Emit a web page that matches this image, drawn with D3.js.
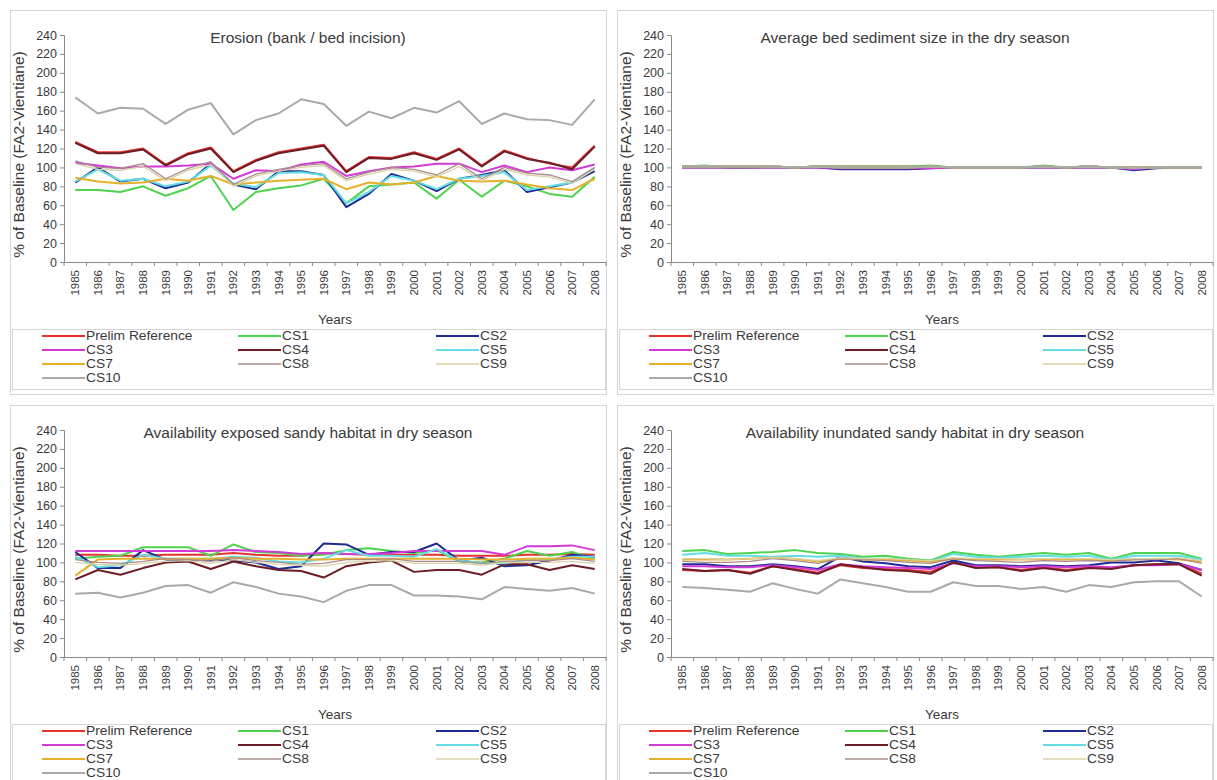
<!DOCTYPE html>
<html>
<head>
<meta charset="utf-8">
<script src="https://cdn.jsdelivr.net/npm/d3@7/dist/d3.min.js"></script>
<style>
  html, body { margin: 0; padding: 0; background: #fff; }
  svg { display: block; font-family: "Liberation Sans", Arial, sans-serif; }
</style>
</head>
<body>
<svg id="chart" width="1217" height="780"></svg>
<script>
// Category axis
const years = ["1985","1986","1987","1988","1989","1990","1991","1992","1993","1994","1995","1996",
               "1997","1998","1999","2000","2001","2002","2003","2004","2005","2006","2007","2008"];
const yTicks = [0, 20, 40, 60, 80, 100, 120, 140, 160, 180, 200, 220, 240];

// Scenario series (drawn in this order)
const seriesNames = ["Prelim Reference","CS1","CS2","CS3","CS4","CS5","CS7","CS8","CS9","CS10"];

const panelTitles = [
  "Erosion (bank / bed incision)",
  "Average bed sediment size in the dry season",
  "Availability exposed sandy habitat in dry season",
  "Availability inundated sandy habitat in dry season"
];

// % of baseline, one row per series in seriesNames order
const erosion = [
  [127,116,116,120,103,115,121,96,108,116,120,124,96,111,110,116,109,120,102,118,110,104,100,123],
  [76,76,74,80,70,78,91,55,74,78,81,88,62,80,82,84,67,87,69,86,80,72,69,90],
  [84,100,85,88,78,84,104,82,77,96,96,92,58,72,93,86,75,88,92,97,74,79,84,96],
  [105,102,99,101,101,102,104,88,97,96,103,106,91,96,100,101,104,104,95,102,95,100,97,103],
  [126,115,115,119,102,114,120,95,107,115,119,123,95,110,109,115,108,119,101,117,109,105,98,122],
  [85,98,86,88,80,85,102,83,79,94,95,92,62,74,91,86,77,88,91,95,76,80,84,99],
  [89,85,83,84,88,86,91,82,84,86,87,88,77,84,82,84,91,86,85,86,82,78,76,88],
  [107,100,99,104,88,99,106,82,93,98,102,104,88,95,100,98,92,104,88,100,94,92,85,100],
  [104,98,97,101,86,97,103,80,91,96,100,102,86,93,98,96,90,101,86,98,92,90,83,98],
  [174,157,163,162,146,161,168,135,150,157,172,167,144,159,152,163,158,170,146,157,151,150,145,172]
];

const sediment = [
  [101,101,101,101,101,100,101,101,101,101,101,101,100,100,100,100,101,100,101,100,100,100,100,100],
  [101,102,100,100,101,100,101,101,101,101,101,102,100,100,100,100,102,100,101,100,100,100,100,100],
  [100,100,100,100,100,100,100,98,98,98,98,99,100,100,100,100,100,100,100,100,97,99,100,100],
  [100,100,100,100,100,100,100,99,99,99,99,99,100,100,100,100,100,100,100,100,98,100,100,100],
  [101,101,101,101,101,100,101,100,100,100,100,101,100,100,100,100,101,100,101,100,100,100,100,100],
  [101,101,101,101,101,100,101,100,100,100,100,101,100,100,100,100,101,100,101,100,100,100,100,100],
  [101,101,101,101,101,100,101,100,100,100,100,101,100,100,100,100,101,100,101,100,100,100,100,100],
  [101,101,101,101,101,100,101,100,100,100,100,101,100,100,100,100,101,100,102,100,100,100,100,100],
  [101,101,101,101,101,100,101,100,100,100,100,101,100,100,100,100,101,100,101,100,100,100,100,100],
  [101,101,101,101,101,100,101,100,100,100,100,101,100,100,100,100,101,100,101,100,99,100,100,100]
];

const exposedHabitat = [
  [108,108,107,107,108,108,108,110,108,107,107,110,109,108,108,108,108,107,107,107,108,108,109,108],
  [104,106,107,116,116,116,107,119,111,110,107,108,113,115,112,110,113,101,100,104,112,107,111,104],
  [111,94,94,113,103,102,103,102,100,93,96,120,119,108,111,111,120,102,105,96,97,102,108,106],
  [112,112,112,112,112,112,112,113,112,111,109,110,109,109,110,112,112,112,112,108,117,117,118,113],
  [82,92,87,94,100,101,93,101,96,92,91,84,96,100,102,90,92,92,87,98,98,92,97,93],
  [106,95,97,108,104,104,104,106,105,101,100,104,113,107,107,106,114,102,99,99,103,103,106,106],
  [86,103,104,104,104,104,104,105,104,104,103,103,104,104,104,104,104,104,103,103,104,104,105,103],
  [103,100,99,101,104,103,101,105,102,100,98,99,103,103,104,101,101,101,99,101,102,102,104,101],
  [100,98,97,99,101,102,99,103,100,98,97,96,100,101,102,99,99,99,97,100,100,100,101,99],
  [67,68,63,68,75,76,68,79,74,67,64,58,70,76,76,65,65,64,61,74,72,70,73,67]
];

const inundatedHabitat = [
  [92,91,92,89,96,93,89,97,94,93,92,90,100,95,95,92,95,92,95,94,97,98,99,88],
  [112,113,109,110,111,113,110,109,106,107,104,102,111,108,106,108,110,108,110,104,110,110,110,104],
  [98,98,96,96,98,96,93,106,101,99,96,95,102,97,97,96,97,96,97,100,100,102,99,92],
  [96,96,95,95,97,95,92,98,96,95,94,93,99,96,96,95,96,95,96,95,97,97,98,92],
  [93,91,92,88,96,92,88,98,95,92,91,88,100,94,95,91,94,91,94,93,97,98,98,86],
  [108,110,107,107,106,107,106,107,104,104,102,101,109,106,105,106,107,106,107,103,107,107,107,103],
  [103,103,103,104,105,104,101,104,103,103,102,101,104,103,103,103,103,103,103,102,103,104,103,101],
  [101,100,100,101,104,102,99,104,103,102,100,99,104,102,101,100,102,101,102,101,103,103,104,99],
  [104,104,103,104,105,104,102,105,104,104,103,102,105,104,104,103,104,104,104,103,104,104,105,102],
  [74,73,71,69,78,72,67,82,78,74,69,69,79,75,75,72,74,69,76,74,79,80,80,64]
];

const panelData = [erosion, sediment, exposedHabitat, inundatedHabitat];

// Line styling per series
const seriesColors = ["#e5332f","#4fd34f","#1f2b95","#d23ad6","#6c1d25","#62dde3","#e6b02c","#ab8c8c","#d9d2a6","#a9a9a9"];
const seriesWidths = [2, 2, 2, 2, 2, 2, 2, 1.3, 1.3, 2];

// Panel geometry (relative to each panel's origin)
const panelOrigins = [[0, 0], [607, 0], [0, 395], [607, 395]];
const plot = { left: 64, right: 606, top: 35, bottom: 262 };

const svg = d3.select("#chart");
const axisColor = "#8a8a8a";
const textColor = "#3a3a3a";

panelData.forEach((rows, p) => {
  const [ox, oy] = panelOrigins[p];
  const g = svg.append("g").attr("transform", `translate(${ox},${oy})`);

  // chart frame
  g.append("rect")
    .attr("x", 10.5).attr("y", 10.5).attr("width", 596).attr("height", 384)
    .attr("fill", "#fff").attr("stroke", "#d6d6d6");

  const x = d3.scaleBand().domain(years).range([plot.left, plot.right]);
  const y = d3.scaleLinear().domain([0, 240]).range([plot.bottom, plot.top]);

  // y axis
  const yAxis = g.append("g")
    .attr("transform", `translate(${plot.left},0)`)
    .call(d3.axisLeft(y).tickValues(yTicks).tickSize(4).tickPadding(3));
  yAxis.select(".domain").attr("stroke", axisColor);
  yAxis.selectAll(".tick line").attr("stroke", axisColor);
  yAxis.selectAll(".tick text")
    .attr("fill", textColor).attr("font-size", 12.5)
    .attr("font-family", "Liberation Sans, Arial, sans-serif");

  // x axis with ticks between categories
  const xAxis = g.append("g")
    .attr("transform", `translate(0,${plot.bottom})`)
    .call(d3.axisBottom(x).tickSize(0).tickPadding(0));
  xAxis.select(".domain").attr("stroke", axisColor);
  xAxis.selectAll(".tick text")
    .attr("fill", textColor).attr("font-size", 11.5)
    .attr("font-family", "Liberation Sans, Arial, sans-serif")
    .attr("text-anchor", "end")
    .attr("transform", "rotate(-90)")
    .attr("x", -8).attr("y", 0).attr("dy", "0.35em");
  const bounds = years.map(yr => x(yr)).concat([plot.right]);
  g.append("g").selectAll("line").data(bounds).join("line")
    .attr("x1", d => d).attr("x2", d => d)
    .attr("y1", plot.bottom).attr("y2", plot.bottom + 4)
    .attr("stroke", axisColor);

  // series lines
  const line = d3.line()
    .x((d, i) => x(years[i]) + x.bandwidth() / 2)
    .y(d => y(d));
  rows.forEach((vals, s) => {
    g.append("path")
      .datum(vals)
      .attr("d", line)
      .attr("fill", "none")
      .attr("stroke", seriesColors[s])
      .attr("stroke-width", seriesWidths[s])
      .attr("stroke-linejoin", "round");
  });

  // title
  g.append("text")
    .attr("x", 308).attr("y", 43)
    .attr("text-anchor", "middle")
    .attr("font-size", 15.5).attr("fill", textColor)
    .text(panelTitles[p]);

  // axis titles
  g.append("text")
    .attr("transform", `translate(24,${(plot.top + plot.bottom) / 2 + 6}) rotate(-90)`)
    .attr("text-anchor", "middle")
    .attr("font-size", 15.5).attr("fill", textColor)
    .text("% of Baseline (FA2-Vientiane)");
  g.append("text")
    .attr("x", (plot.left + plot.right) / 2).attr("y", 324)
    .attr("text-anchor", "middle")
    .attr("font-size", 13.5).attr("fill", textColor)
    .text("Years");

  // legend: three columns, rows packed tightly
  const lg = g.append("g");
  lg.append("rect")
    .attr("x", 12.5).attr("y", 329.5).attr("width", 593).attr("height", 60)
    .attr("fill", "#fff").attr("stroke", "#d6d6d6");
  const colX = [42, 238, 436];
  seriesNames.forEach((name, i) => {
    const cx = colX[i % 3];
    const cy = 336 + Math.floor(i / 3) * 14;
    lg.append("line")
      .attr("x1", cx).attr("x2", cx + 43)
      .attr("y1", cy).attr("y2", cy)
      .attr("stroke", seriesColors[i])
      .attr("stroke-width", seriesWidths[i]);
    lg.append("text")
      .attr("transform", `translate(${cx + 44},${cy}) scale(1.15,1)`)
      .attr("dy", "0.36em")
      .attr("font-size", 12).attr("fill", textColor)
      .text(name);
  });
});
</script>
</body>
</html>
